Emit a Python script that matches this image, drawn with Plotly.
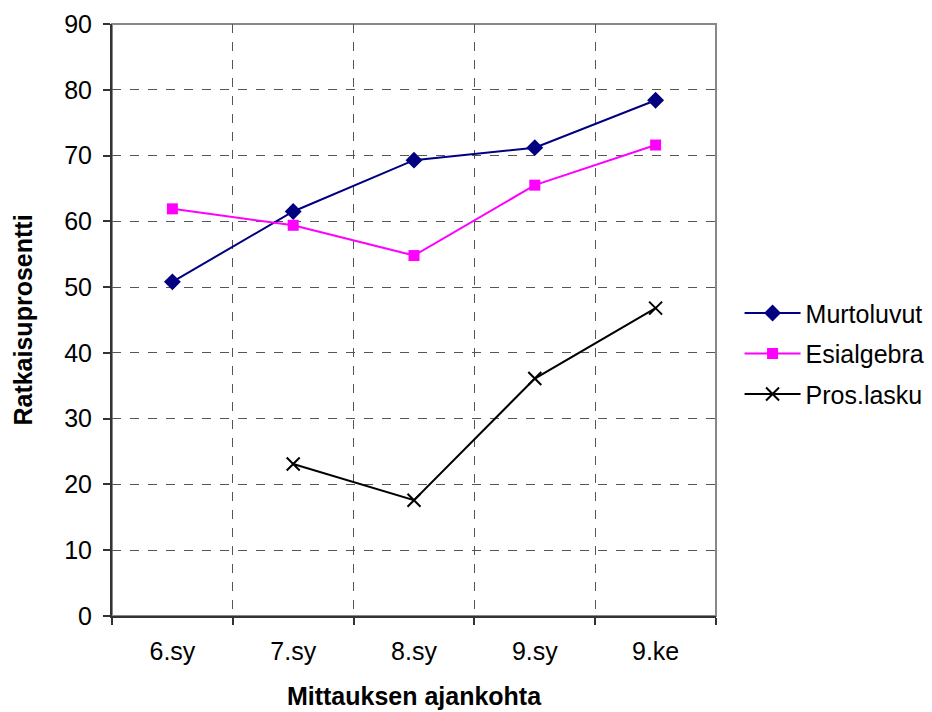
import plotly.graph_objects as go

# Measurement points and solution percentages per topic
categories = ["6.sy", "7.sy", "8.sy", "9.sy", "9.ke"]
murtoluvut = [50.8, 61.5, 69.3, 71.2, 78.4]
esialgebra = [61.9, 59.4, 54.8, 65.5, 71.6]
pros_lasku = [None, 23.1, 17.6, 36.1, 46.8]

FONT = "Arial, Liberation Sans, sans-serif"

fig = go.Figure()

fig.add_trace(go.Scatter(
    x=categories, y=murtoluvut, name="Murtoluvut", mode="lines+markers",
    line=dict(color="#000080", width=2),
    marker=dict(symbol="diamond", size=13, color="#000080"),
    legendgroup="a",
))
fig.add_trace(go.Scatter(
    x=categories, y=esialgebra, name="Esialgebra", mode="lines+markers",
    line=dict(color="#FF00FF", width=2),
    marker=dict(symbol="square", size=11, color="#FF00FF"),
    legendgroup="b",
))
fig.add_trace(go.Scatter(
    x=categories, y=pros_lasku, name="Pros.lasku", mode="lines+markers",
    line=dict(color="#000000", width=2),
    marker=dict(symbol="x-thin-open", size=13, line=dict(color="#000000", width=2)),
    legendgroup="c", connectgaps=False,
))

fig.update_layout(
    width=932, height=712,
    margin=dict(l=112, r=216, t=24, b=96, autoexpand=False),
    paper_bgcolor="white", plot_bgcolor="white",
    font=dict(family=FONT, size=25, color="#000000"),
    showlegend=True,
    legend=dict(
        x=1.039, y=0.443, xanchor="left", yanchor="middle",
        font=dict(family=FONT, size=25, color="#000000"),
        traceorder="grouped", tracegroupgap=5,
        itemwidth=56,
        bgcolor="rgba(0,0,0,0)",
    ),
    shapes=[dict(
        type="rect", xref="paper", yref="paper", x0=0, y0=0, x1=1, y1=1,
        line=dict(color="#888888", width=2), layer="below",
    )],
)

fig.update_xaxes(
    type="category", tickson="boundaries", range=[-0.5, 4.5],
    showgrid=True, gridcolor="#555555", griddash="dash", gridwidth=1,
    showline=True, linecolor="#333333", linewidth=2,
    ticks="outside", ticklen=7, tickcolor="#333333", tickwidth=2,
    tickfont=dict(family=FONT, size=25),
    ticklabelstandoff=12,
    title=dict(text="<b>Mittauksen ajankohta</b>", font=dict(family=FONT, size=25), standoff=23),
)

fig.update_yaxes(
    range=[0, 90], tickmode="array", tickvals=list(range(0, 91, 10)),
    showgrid=True, gridcolor="#555555", griddash="dash", gridwidth=1,
    showline=True, linecolor="#333333", linewidth=2,
    ticks="outside", ticklen=7, tickcolor="#333333", tickwidth=2,
    tickfont=dict(family=FONT, size=25),
    ticklabelstandoff=6,
    zeroline=False,
    title=dict(text="<b>Ratkaisuprosentti</b>", font=dict(family=FONT, size=25), standoff=24),
)

fig.write_html("out.html")
